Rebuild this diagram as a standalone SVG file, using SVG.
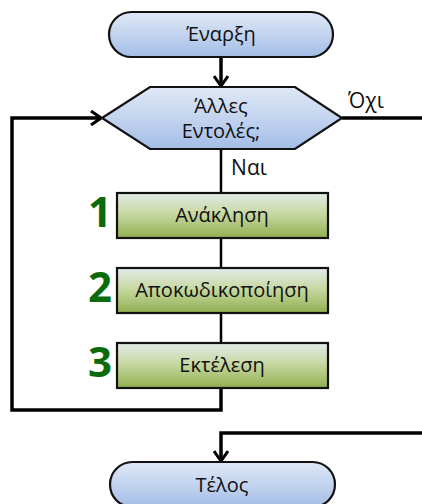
<svg xmlns="http://www.w3.org/2000/svg" width="422" height="504" viewBox="0 0 422 504">
  <defs>
    <linearGradient id="blueFill" x1="0" y1="0" x2="0" y2="1">
      <stop offset="0" stop-color="#dfe8f6"/>
      <stop offset="0.5" stop-color="#c3d4ef"/>
      <stop offset="1" stop-color="#a3bde6"/>
    </linearGradient>
    <linearGradient id="greenFill" x1="0" y1="0" x2="0" y2="1">
      <stop offset="0" stop-color="#e2ebea"/>
      <stop offset="0.45" stop-color="#c8d9a4"/>
      <stop offset="1" stop-color="#91af4f"/>
    </linearGradient>
    <marker id="arrow" viewBox="0 0 12 16" refX="11" refY="8" markerWidth="12" markerHeight="16" markerUnits="userSpaceOnUse" orient="auto">
      <path d="M1,1 L11,8 L1,15" fill="none" stroke="#000" stroke-width="3"/>
    </marker>
  </defs>
  <style>
    .term { fill: url(#blueFill); stroke: #111; stroke-width: 2.2; }
    .step { fill: url(#greenFill); stroke: #111; stroke-width: 2.2; }
    .lbl { font-family: "Open Sans", "Noto Sans", "DejaVu Sans", sans-serif; font-size: 20px; fill: #111; text-anchor: middle; }
    .side { font-size: 21px; }
    .num { font-family: "Open Sans", "Noto Sans", "DejaVu Sans", sans-serif; font-size: 42px; font-weight: bold; fill: #0b6b0b; text-anchor: middle; }
    .wire { fill: none; stroke: #000; stroke-width: 3.5; }
    .link { fill: none; stroke: #000; stroke-width: 2.5; }
  </style>

  <!-- connectors -->
  <g id="connectors">
    <line class="wire" x1="221" y1="57" x2="221" y2="86" marker-end="url(#arrow)"/>
    <line class="link" x1="221" y1="149" x2="221" y2="193"/>
    <line class="link" x1="221" y1="238" x2="221" y2="268"/>
    <line class="link" x1="221" y1="313" x2="221" y2="343"/>
    <polyline class="wire" points="221,388 221,410 12,410 12,118 101,118" marker-end="url(#arrow)"/>
    <line class="wire" x1="342" y1="118" x2="422" y2="118"/>
    <polyline class="wire" points="422,433 221,433 221,461" marker-end="url(#arrow)"/>
    <text class="lbl side" x="366" y="108">Όχι</text>
    <text class="lbl side" x="249" y="175">Ναι</text>
  </g>

  <g id="start">
    <rect class="term" x="109" y="12" width="224" height="45" rx="22.5"/>
    <text class="lbl" x="221" y="41">Έναρξη</text>
  </g>

  <g id="decision">
    <polygon class="term" points="102,118 150,87 295,87 342,118 295,149 150,149"/>
    <text class="lbl" x="221" y="113">Άλλες</text>
    <text class="lbl" x="221" y="138">Εντολές;</text>
  </g>

  <g id="fetch">
    <text class="num" x="100" y="227">1</text>
    <rect class="step" x="117" y="193" width="211" height="45"/>
    <text class="lbl" x="222" y="222">Ανάκληση</text>
  </g>

  <g id="decode">
    <text class="num" x="100" y="302">2</text>
    <rect class="step" x="117" y="268" width="211" height="45"/>
    <text class="lbl" x="222" y="297">Αποκωδικοποίηση</text>
  </g>

  <g id="execute">
    <text class="num" x="100" y="377">3</text>
    <rect class="step" x="117" y="343" width="211" height="45"/>
    <text class="lbl" x="222" y="372">Εκτέλεση</text>
  </g>

  <g id="end">
    <rect class="term" x="110" y="462" width="225" height="45" rx="22.5"/>
    <text class="lbl" x="222" y="492">Τέλος</text>
  </g>
</svg>
